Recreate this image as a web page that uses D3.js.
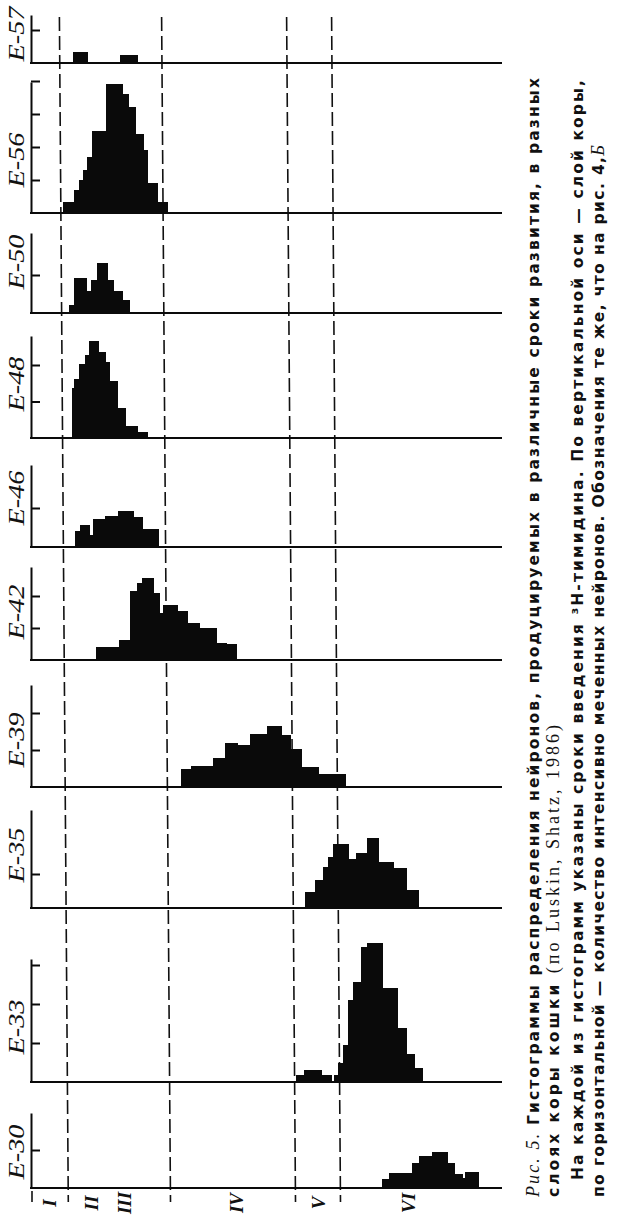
<!DOCTYPE html>
<html>
<head>
<meta charset="utf-8">
<script src="https://cdn.jsdelivr.net/npm/d3@7"></script>
<style>
body { margin: 0; background: #fff; }
</style>
</head>
<body>
<svg id="chart" width="620" height="1222"></svg>
<script>
// histogram data: depth along the cortex (0..100, pia -> white matter) and
// number of labelled neurons (one axis tick = 10)
const panelNames = ["E-57", "E-56", "E-50", "E-48", "E-46", "E-42", "E-39", "E-35", "E-33", "E-30"];
const tickCounts = [1, 4, 1, 2, 1, 2, 2, 1, 3, 1];

const edgesE57 = [8.9, 11.9, 18.9, 22.5];
const countsE57 = [3.3, 0, 2.4];

const edgesE56 = [6.8, 9.1, 10.2, 11.0, 11.9, 13.0, 15.9, 19.3, 20.6, 22.1, 23.8, 24.8, 26.8, 28.9];
const countsE56 = [3.3, 7, 10, 13, 17, 25, 39, 36, 32, 24, 19, 9, 3.3];

const edgesE50 = [8.1, 9.1, 11.7, 12.7, 14.0, 16.3, 17.6, 19.5, 20.8];
const countsE50 = [2.1, 9.2, 5.8, 8.7, 13.2, 8.7, 5.8, 3.4];

const edgesE48 = [8.7, 9.1, 10.2, 11.5, 12.3, 14.4, 15.7, 16.6, 18.3, 20.0, 22.5, 24.8];
const countsE48 = [13.7, 16.2, 20.3, 22.7, 26.6, 23.6, 20.8, 15.6, 8.2, 3.3, 1.6];

const edgesE46 = [9.3, 10.4, 12.5, 13.2, 15.7, 18.5, 21.7, 23.6, 27.0];
const countsE46 = [4.1, 5.6, 3.0, 7.2, 7.9, 9.2, 7.7, 4.6];

const edgesE42 = [13.8, 18.7, 21.0, 22.5, 23.6, 25.9, 27.2, 28.0, 31.0, 33.1, 35.7, 39.3, 41.4, 43.7];
const countsE42 = [4.1, 6.3, 21.6, 24.1, 25.6, 20.9, 14.7, 17.2, 15.3, 11.6, 10, 5.3, 5];

const edgesE39 = [31.8, 34.0, 38.6, 41.2, 43.9, 46.5, 50.1, 53.1, 55.0, 57.5, 61.1, 66.7];
const countsE39 = [4.9, 5.7, 7.8, 11.9, 11.4, 14.3, 16.5, 14.1, 10.3, 5.4, 3.5];

const edgesE35 = [58.2, 60.3, 62.0, 63.1, 64.1, 67.3, 69.0, 71.3, 73.7, 76.9, 79.6, 82.2];
const countsE35 = [4.7, 8.2, 12.1, 15, 18.8, 14.4, 16.2, 20.6, 13.5, 11.8, 5.3];

const edgesE33 = [56.3, 58.0, 61.6, 63.7, 64.3, 65.2, 66.2, 67.3, 68.4, 70.1, 71.3, 74.7, 77.7, 79.8, 81.5, 83.0];
const countsE33 = [1.8, 3.1, 1.8, 0, 1.8, 4.9, 9.5, 21, 25.6, 34.6, 35.6, 24.1, 13.8, 7.2, 3.6];

const edgesE30 = [74.5, 76.0, 80.9, 82.4, 85.1, 88.5, 89.8, 91.5, 92.1, 94.9];
const countsE30 = [2.4, 3.9, 6.6, 8.4, 9.5, 6.6, 3.7, 2.6, 4.2];

const layerNames = ["I", "II", "III", "IV", "V", "VI"];
const layerLabelPos = [4.0, 12.9, 19.9, 43.7, 61.2, 80.3];
const layerBounds = [6.96, 28.66, 55.2, 64.75];

const captionLines = [
    [["Рис. 5. ", "i"], ["Гистограммы распределения нейронов, продуцируемых в различные сроки развития, в разных", "b"]],
    [["слоях коры кошки ", "b"], ["(по Luskin, Shatz, 1986)", "r"]],
    [["На каждой из гистограмм указаны сроки введения ³H-тимидина. По вертикальной оси — слой коры,", "b"]],
    [["по горизонтальной — количество интенсивно меченных нейронов. Обозначения те же, что на рис. 4,", "b"], ["Б", "i"]]
];

const edgesAll = [edgesE57, edgesE56, edgesE50, edgesE48, edgesE46, edgesE42, edgesE39, edgesE35, edgesE33, edgesE30];
const countsAll = [countsE57, countsE56, countsE50, countsE48, countsE46, countsE42, countsE39, countsE35, countsE33, countsE30];

// page layout (pixels)
const panelLayout = [
    {top: 15, base: 63, tickPx: 33, labelY: 34},
    {top: 82, base: 213, tickPx: 33, labelY: 160},
    {top: 233, base: 313, tickPx: 38, labelY: 262},
    {top: 336, base: 438, tickPx: 36.5, labelY: 384},
    {top: 465, base: 547, tickPx: 39, labelY: 498},
    {top: 567, base: 660, tickPx: 32, labelY: 612},
    {top: 685, base: 787, tickPx: 37, labelY: 740},
    {top: 810, base: 908, tickPx: 34, labelY: 855},
    {top: 959, base: 1082, tickPx: 39, labelY: 1027},
    {top: 1113, base: 1188, tickPx: 38, labelY: 1152}
];
const captionLayout = [
    {x: 539, y: 1197, len: 1119},
    {x: 559, y: 1197, len: 472},
    {x: 583, y: 1180, len: 1100},
    {x: 604, y: 1197, len: 1052}
];

const svg = d3.select("#chart");
const xScale = d3.scaleLinear().domain([0, 100]).range([31, 502]);

// the dashed layer lines lean slightly in the original drawing
const lean = 0.0075, leanMid = 600;
const lineTop = 17, lineBottom = 1202;

const dashes = svg.append("g")
    .attr("stroke", "#111")
    .attr("stroke-width", 1.6)
    .attr("stroke-dasharray", "14,5");

dashes.selectAll("line")
    .data(layerBounds)
    .join("line")
    .attr("x1", d => xScale(d) + (lineTop - leanMid) * lean)
    .attr("x2", d => xScale(d) + (lineBottom - leanMid) * lean)
    .attr("y1", lineTop)
    .attr("y2", lineBottom);

// short pia mark below the last panel
const lastBase = panelLayout[panelLayout.length - 1].base;
dashes.append("line")
    .attr("x1", xScale(0) + 1)
    .attr("x2", xScale(0) + 1)
    .attr("y1", lastBase + 3)
    .attr("y2", lineBottom)
    .attr("stroke-dasharray", null);

panelNames.forEach(function(name, i) {
    const L = panelLayout[i];
    const yMax = (L.base - L.top) / L.tickPx * 10;
    const yScale = d3.scaleLinear().domain([0, yMax]).range([L.base, L.top]);
    const edges = edgesAll[i];
    const bins = countsAll[i].map((c, j) => ({x0: edges[j], x1: edges[j + 1], c: c}))
        .filter(b => b.c > 0);

    const g = svg.append("g");

    g.selectAll("rect")
        .data(bins)
        .join("rect")
        .attr("x", d => xScale(d.x0))
        .attr("width", d => xScale(d.x1) - xScale(d.x0) + 0.6)
        .attr("y", d => yScale(d.c))
        .attr("height", d => L.base - yScale(d.c))
        .attr("shape-rendering", "crispEdges")
        .attr("fill", "#0a0a0a");

    g.append("g")
        .attr("transform", "translate(" + xScale(0) + ",0)")
        .call(d3.axisRight(yScale)
            .tickValues(d3.range(1, tickCounts[i] + 1).map(k => k * 10))
            .tickSize(9)
            .tickSizeOuter(0)
            .tickFormat(""))
        .call(a => a.selectAll("path, line").attr("stroke", "#0a0a0a").attr("stroke-width", 2));

    g.append("line")
        .attr("x1", xScale(0) - 1)
        .attr("x2", xScale(100))
        .attr("y1", L.base)
        .attr("y2", L.base)
        .attr("stroke", "#0a0a0a")
        .attr("stroke-width", 2);

    g.append("text")
        .attr("transform", "translate(24," + L.labelY + ") rotate(-90)")
        .attr("text-anchor", "middle")
        .attr("textLength", 55)
        .attr("lengthAdjust", "spacingAndGlyphs")
        .style("font-family", "'Liberation Serif', 'DejaVu Serif', serif")
        .style("font-style", "italic")
        .style("font-size", "23px")
        .attr("fill", "#111")
        .text(name);
});

// layer labels under the last panel
svg.append("g")
    .selectAll("text")
    .data(layerNames)
    .join("text")
    .attr("transform", (d, i) => "translate(" + (xScale(layerLabelPos[i]) + 6) + ",1203) rotate(-90)")
    .attr("text-anchor", "middle")
    .style("font-family", "'Liberation Serif', 'DejaVu Serif', serif")
    .style("font-style", "italic")
    .style("font-weight", "bold")
    .style("font-size", "19px")
    .attr("fill", "#111")
    .text(d => d);

// caption, rotated like the rest of the page
const fontFor = {
    i: {family: "'Liberation Serif', serif", style: "italic", weight: "normal", size: "18px"},
    b: {family: "'DejaVu Sans', sans-serif", style: "normal", weight: "bold", size: "15.5px"},
    r: {family: "'Liberation Serif', serif", style: "normal", weight: "normal", size: "18px"}
};

captionLines.forEach(function(parts, i) {
    const C = captionLayout[i];
    const t = svg.append("text")
        .attr("transform", "translate(" + C.x + "," + C.y + ") rotate(-90)")
        .attr("textLength", C.len)
        .attr("lengthAdjust", "spacing")
        .attr("fill", "#111");
    parts.forEach(function(p) {
        const f = fontFor[p[1]];
        t.append("tspan")
            .style("font-family", f.family)
            .style("font-style", f.style)
            .style("font-weight", f.weight)
            .style("font-size", f.size)
            .text(p[0]);
    });
});
</script>
</body>
</html>
